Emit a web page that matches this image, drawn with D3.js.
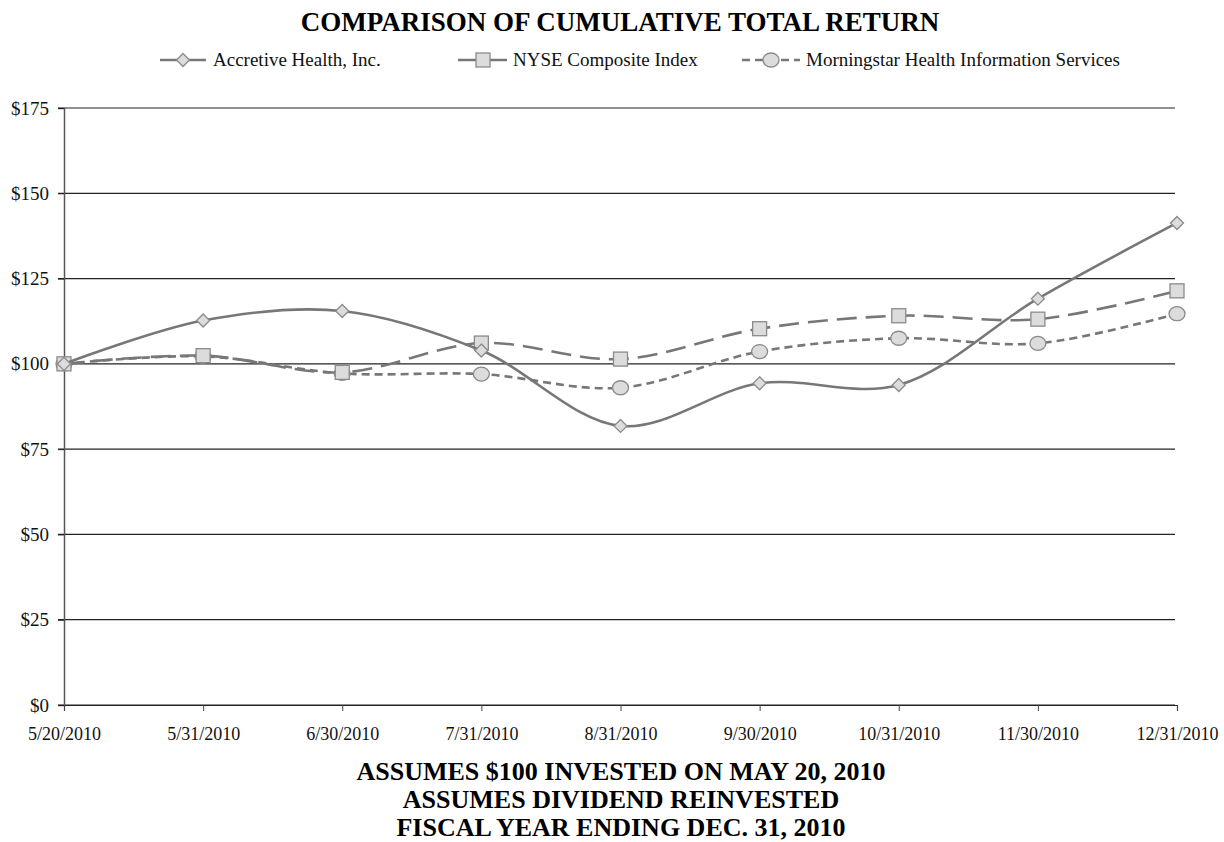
<!DOCTYPE html>
<html>
<head>
<meta charset="utf-8">
<script src="https://cdnjs.cloudflare.com/ajax/libs/d3/7.8.5/d3.min.js"></script>
<style>
    body { margin: 0; background: #fff; }
    svg { font-family: 'Liberation Serif', 'Times New Roman', serif; }
    .grid line { stroke: #222; stroke-width: 1.2; }
    .series path.line { fill: none; stroke: #777; stroke-width: 2.6; }
    .marker { fill: #dcdcdc; stroke: #8a8a8a; stroke-width: 1.3; }
</style>
</head>
<body>
<svg class="canvas" width="1224" height="842"></svg>
<script>
// data
var dates = ['5/20/2010', '5/31/2010', '6/30/2010', '7/31/2010', '8/31/2010',
             '9/30/2010', '10/31/2010', '11/30/2010', '12/31/2010'];
var accretive = [100, 112.7, 115.5, 103.9, 81.8, 94.3, 93.8, 119.1, 141.3];
var nyse = [100, 102.4, 97.5, 106.1, 101.4, 110.3, 114.1, 113.1, 121.4];
var morningstar = [100, 102.2, 97.2, 97.0, 93.0, 103.6, 107.5, 106.0, 114.7];
var yTicks = [0, 25, 50, 75, 100, 125, 150, 175];
var seriesNames = ['Accretive Health, Inc.', 'NYSE Composite Index', 'Morningstar Health Information Services'];
var footLines = ['ASSUMES $100 INVESTED ON MAY 20, 2010', 'ASSUMES DIVIDEND REINVESTED', 'FISCAL YEAR ENDING DEC. 31, 2010'];

var series = [
    {name: seriesNames[0], values: accretive, dash: null, shape: 'diamond'},
    {name: seriesNames[1], values: nyse, dash: '20,9', shape: 'square'},
    {name: seriesNames[2], values: morningstar, dash: '8,5', shape: 'circle'}
];

var padding = {top: 108, right: 47, bottom: 137, left: 64};
var frameWidth = 1224, frameHeight = 842;
var chartWidth = frameWidth - padding.left - padding.right;
var chartHeight = frameHeight - padding.top - padding.bottom;

var svg = d3.select('.canvas');

svg.append('text')
    .attr('x', 620).attr('y', 31)
    .attr('text-anchor', 'middle')
    .style('font-weight', 'bold').style('font-size', '27px')
    .text('COMPARISON OF CUMULATIVE TOTAL RETURN');

var chart = svg.append('g')
    .classed('chart', true)
    .attr('transform', 'translate(' + padding.left + ',' + padding.top + ')');

var x = d3.scalePoint().domain(dates).range([0, chartWidth]);
var y = d3.scaleLinear().domain([0, 175]).range([chartHeight, 0]);

// horizontal grid
chart.append('g').classed('grid', true)
    .selectAll('line').data(yTicks).enter().append('line')
    .attr('x1', -6).attr('x2', chartWidth - 2)
    .attr('y1', function(d){ return y(d); })
    .attr('y2', function(d){ return y(d); });

// y axis
var yAxis = chart.append('g')
    .call(d3.axisLeft(y).tickValues(yTicks).tickSize(6).tickPadding(9)
        .tickFormat(function(d){ return '$' + d; }));
yAxis.select('.domain').attr('stroke', '#555').attr('stroke-width', 1.5);
yAxis.selectAll('.tick line').attr('stroke', '#222');
yAxis.selectAll('text').style('font-size', '19px').attr('fill', '#111')
    .style('font-family', "'Liberation Serif', serif");

// x axis
var xAxis = chart.append('g')
    .attr('transform', 'translate(0,' + chartHeight + ')')
    .call(d3.axisBottom(x).tickSize(6).tickPadding(16));
xAxis.select('.domain').attr('stroke', '#222').attr('stroke-width', 1.2);
xAxis.selectAll('.tick line').attr('stroke', '#444');
xAxis.selectAll('text').style('font-size', '18px').attr('fill', '#111')
    .style('font-family', "'Liberation Serif', serif");

var line = d3.line()
    .x(function(d, i){ return x(dates[i]); })
    .y(function(d){ return y(d); })
    .curve(d3.curveCatmullRom.alpha(0.5));

function drawMarker(g, shape, cx, cy) {
    if (shape === 'diamond') {
        g.append('path').classed('marker', true)
            .attr('d', 'M' + cx + ',' + (cy - 6.5) + 'L' + (cx + 6.5) + ',' + cy +
                'L' + cx + ',' + (cy + 6.5) + 'L' + (cx - 6.5) + ',' + cy + 'Z');
    } else if (shape === 'square') {
        g.append('rect').classed('marker', true)
            .attr('x', cx - 7).attr('y', cy - 7).attr('width', 14).attr('height', 14);
    } else {
        g.append('ellipse').classed('marker', true)
            .attr('cx', cx).attr('cy', cy).attr('rx', 8).attr('ry', 7);
    }
}

// draw back to front: morningstar, nyse, accretive
series.slice().reverse().forEach(function(s){
    var g = chart.append('g').classed('series', true);
    g.append('path').classed('line', true)
        .attr('d', line(s.values))
        .attr('stroke-dasharray', s.dash);
    s.values.forEach(function(v, i){
        drawMarker(g, s.shape, x(dates[i]), y(v));
    });
});

// legend
var legendItems = [
    {x: 160, w: 46, text: 213},
    {x: 458, w: 50, text: 513},
    {x: 742, w: 58, text: 806}
];
var legend = svg.append('g').classed('legend', true).attr('transform', 'translate(0,60)');
series.forEach(function(s, i){
    var p = legendItems[i];
    var g = legend.append('g').classed('series', true);
    g.append('path').classed('line', true)
        .attr('d', 'M' + p.x + ',0H' + (p.x + p.w))
        .attr('stroke-dasharray', s.dash);
    drawMarker(g, s.shape, p.x + p.w / 2, 0);
    legend.append('text')
        .attr('x', p.text).attr('y', 6)
        .style('font-size', '19px').attr('fill', '#111')
        .text(s.name);
});

// footnotes
svg.selectAll('.foot').data(footLines).enter().append('text')
    .classed('foot', true)
    .attr('x', 621)
    .attr('y', function(d, i){ return 780 + i * 28; })
    .attr('text-anchor', 'middle')
    .style('font-weight', 'bold').style('font-size', '26px')
    .text(function(d){ return d; });
</script>
</body>
</html>
